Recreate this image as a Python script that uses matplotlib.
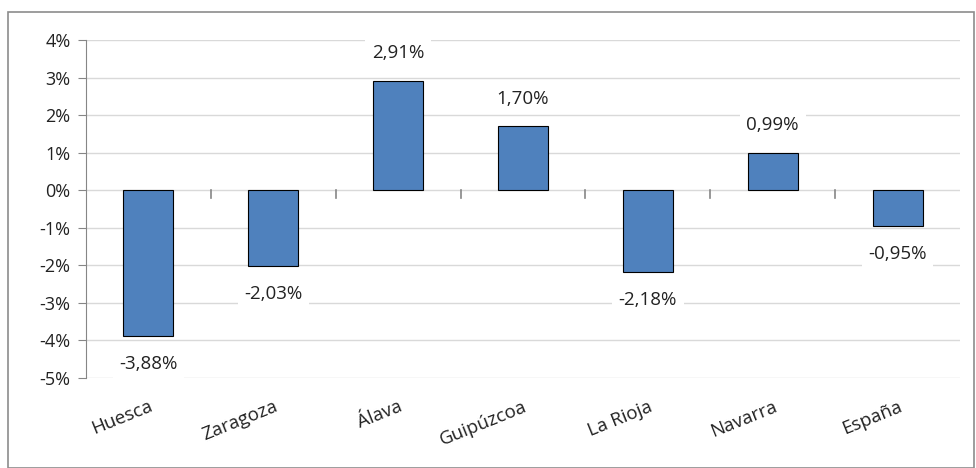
import numpy as np
import matplotlib
matplotlib.use("Agg")
from matplotlib import pyplot as plt
from matplotlib.patches import Rectangle

# Datos
regiones = ['Huesca', 'Zaragoza', 'Álava', 'Guipúzcoa', 'La Rioja', 'Navarra', 'España']
variacion = [-3.88, -2.03, 2.91, 1.70, -2.18, 0.99, -0.95]
etiquetas = ['-3,88%', '-2,03%', '2,91%', '1,70%', '-2,18%', '0,99%', '-0,95%']
ticks_y = [4, 3, 2, 1, 0, -1, -2, -3, -4, -5]

plt.rcParams['font.family'] = ['Open Sans', 'DejaVu Sans']

fig = plt.figure(figsize=(9.76, 4.68), dpi=100)
ax = fig.add_axes([86/976, 90/468, 874/976, 338/468])

# Marco exterior
fig.patches.append(Rectangle((8/976, 0), 966/976, 456/468, transform=fig.transFigure,
                             fill=False, edgecolor='#8c8c8c', linewidth=1.2))

x = np.arange(len(regiones))
ax.bar(x, variacion, width=0.4, color='#4f81bd', edgecolor='black', linewidth=0.8, zorder=3)

for xi, v, txt in zip(x, variacion, etiquetas):
    off = 20 if v > 0 else -20
    ax.annotate(txt, (xi, v), xytext=(0, off), textcoords='offset points',
                ha='center', va='center', fontsize=13.5, color='#222222', zorder=4,
                bbox=dict(boxstyle='square,pad=0.35', facecolor='white', edgecolor='none'))

ax.set_xlim(-0.5, len(regiones) - 0.5)
ax.set_ylim(-5, 4)
ax.set_yticks(ticks_y)
ax.set_yticklabels([f'{t}%' for t in ticks_y], fontsize=13, color='#222222')
ax.grid(axis='y', color='#d9d9d9', linewidth=1, zorder=0)
ax.axhline(0, color='white', linewidth=2, zorder=1)
ax.tick_params(axis='y', length=6, color='#868686', pad=5)

# Marcas entre categorías sobre la línea de 0
for b in np.arange(0.5, len(regiones) - 0.5, 1):
    ax.plot([b, b], [0, -0.2], color='#868686', linewidth=1.2, zorder=2)

ax.set_xticks(x)
ax.set_xticklabels(regiones, fontsize=13.5, rotation=22, ha='right',
                   rotation_mode='anchor', color='#222222')
ax.tick_params(axis='x', length=0, pad=14)

for s in ['top', 'right', 'bottom']:
    ax.spines[s].set_visible(False)
ax.spines['left'].set_color('#868686')

fig.savefig('out.png', dpi=100)
